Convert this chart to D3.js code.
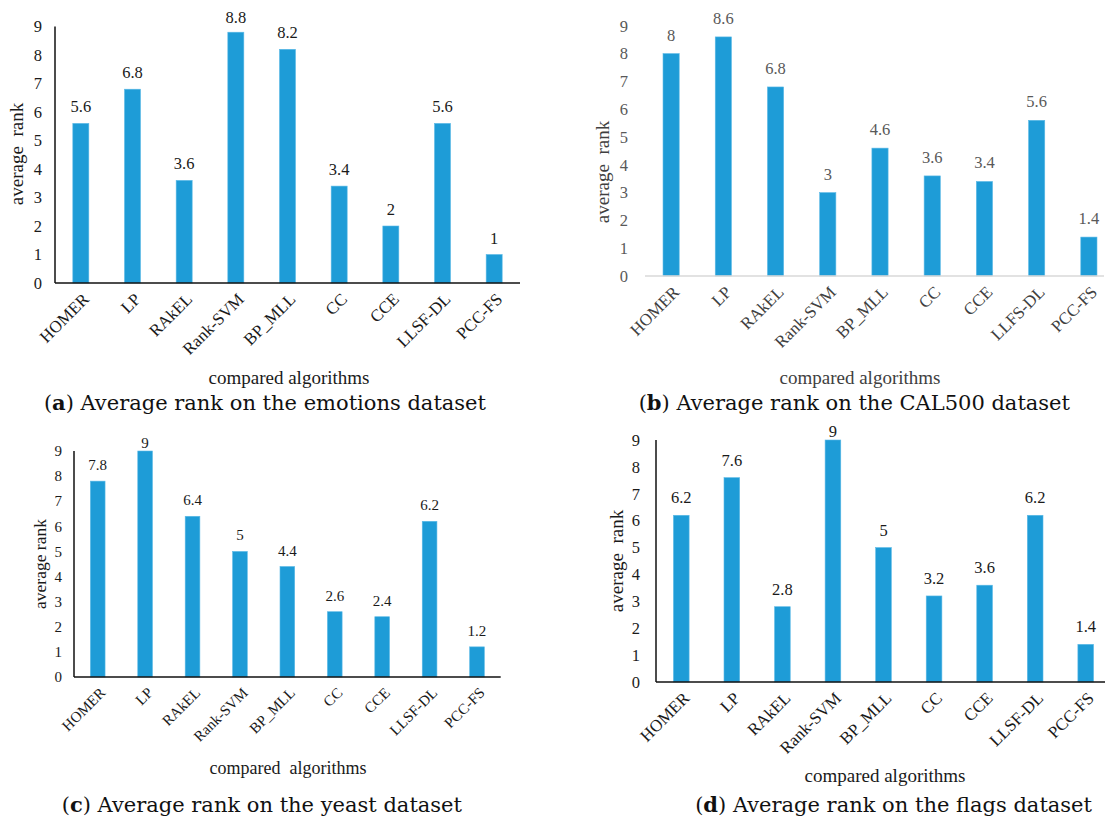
<!DOCTYPE html>
<html>
<head>
<meta charset="utf-8">
<script src="https://cdn.jsdelivr.net/npm/d3@7"></script>
<style>
  body { margin: 0; background: #fff; }
  svg { display: block; font-family: "Liberation Serif", "Times New Roman", serif; }
</style>
</head>
<body>
<svg id="chart" width="1105" height="825"></svg>
<script>
// algorithm names on the x axes
const algosA = ["HOMER", "LP", "RAkEL", "Rank-SVM", "BP_MLL", "CC", "CCE", "LLSF-DL", "PCC-FS"];
const algosB = ["HOMER", "LP", "RAkEL", "Rank-SVM", "BP_MLL", "CC", "CCE", "LLFS-DL", "PCC-FS"];

// average rank per dataset
const rankEmotions = [5.6, 6.8, 3.6, 8.8, 8.2, 3.4, 2, 5.6, 1];
const rankCAL500 = [8, 8.6, 6.8, 3, 4.6, 3.6, 3.4, 5.6, 1.4];
const rankYeast = [7.8, 9, 6.4, 5, 4.4, 2.6, 2.4, 6.2, 1.2];
const rankFlags = [6.2, 7.6, 2.8, 9, 5, 3.2, 3.6, 6.2, 1.4];

const yTicks = [0, 1, 2, 3, 4, 5, 6, 7, 8, 9];

const barColor = "#1e9cd7";
const svg = d3.select("#chart");

function drawPanel(p) {
  const g = svg.append("g");

  const x = d3.scaleBand()
    .domain(p.cats)
    .range([p.x0, p.x1])
    .paddingInner(0.69)
    .paddingOuter(0.345);

  const y = d3.scaleLinear()
    .domain([0, 9])
    .range([p.base, p.top]);

  // bars
  g.append("g")
    .selectAll("rect")
    .data(p.values)
    .join("rect")
    .attr("x", (d, i) => x(p.cats[i]))
    .attr("y", d => y(d))
    .attr("width", x.bandwidth())
    .attr("height", d => y(0) - y(d))
    .attr("fill", barColor)
    .attr("stroke", "#5bb9e6")
    .attr("stroke-width", 0.6);

  // value labels (squeezed at the top of the plot, like the original)
  g.append("g")
    .selectAll("text")
    .data(p.values)
    .join("text")
    .attr("x", (d, i) => x(p.cats[i]) + x.bandwidth() / 2)
    .attr("y", d => Math.max(y(d) - p.valGap, p.labelMin))
    .attr("text-anchor", "middle")
    .attr("fill", p.textColor)
    .style("font-size", p.fs + "px")
    .text(d => d);

  // y axis tick labels
  g.append("g")
    .selectAll("text")
    .data(yTicks)
    .join("text")
    .attr("x", p.x0 - p.tickGap)
    .attr("y", d => y(d))
    .attr("dy", "0.35em")
    .attr("text-anchor", "end")
    .attr("fill", p.textColor)
    .style("font-size", p.fs + "px")
    .text(d => d);

  // axis lines
  g.append("line")
    .attr("x1", p.x0).attr("x2", p.axisEnd)
    .attr("y1", y(0)).attr("y2", y(0))
    .attr("stroke", p.axisColor)
    .attr("stroke-width", p.axisWidth);
  if (p.yAxisLine) {
    g.append("line")
      .attr("x1", p.x0).attr("x2", p.x0)
      .attr("y1", y(9)).attr("y2", y(0))
      .attr("stroke", p.axisColor)
      .attr("stroke-width", p.axisWidth);
  }

  // category labels, rotated
  g.append("g")
    .selectAll("text")
    .data(p.cats)
    .join("text")
    .attr("transform", d => `translate(${x(d) + x.bandwidth() / 2 + 5},${y(0) + 13}) rotate(-45)`)
    .attr("dy", "0.35em")
    .attr("text-anchor", "end")
    .attr("fill", p.catColor)
    .style("font-size", p.catFs + "px")
    .text(d => d);

  // axis titles
  g.append("text")
    .attr("transform", `translate(${p.yTitleX},${p.yTitleY}) rotate(-90)`)
    .attr("text-anchor", "middle")
    .attr("fill", p.titleColor)
    .style("font-size", p.yTitleFs + "px")
    .style("white-space", "pre")
    .text(p.yTitle);

  g.append("text")
    .attr("x", p.xTitleX)
    .attr("y", p.xTitleY)
    .attr("text-anchor", "middle")
    .attr("fill", p.titleColor)
    .style("font-size", p.titleFs + "px")
    .style("white-space", "pre")
    .text(p.xTitle);

  // caption, anchored on its right end
  const cap = g.append("text")
    .attr("x", p.capEnd)
    .attr("y", p.capY)
    .attr("text-anchor", "end")
    .attr("fill", "#111")
    .style("font-family", "'DejaVu Serif', serif")
    .style("font-size", "21px");
  cap.append("tspan").text("(");
  cap.append("tspan").style("font-weight", "bold").text(p.letter);
  cap.append("tspan").text(") " + p.caption);
}

const dark = {
  textColor: "#1a1a1a", catColor: "#1a1a1a", titleColor: "#1a1a1a",
  axisColor: "#111", axisWidth: 1.5, yAxisLine: true
};

drawPanel(Object.assign({}, dark, {
  cats: algosA, values: rankEmotions,
  x0: 55, x1: 520, axisEnd: 520, base: 283, top: 26.5,
  fs: 16.5, catFs: 17, titleFs: 19, yTitleFs: 19, valGap: 11, labelMin: 23, tickGap: 13,
  yTitle: "average  rank", yTitleX: 23, yTitleY: 154,
  xTitle: "compared algorithms", xTitleX: 289, xTitleY: 384,
  letter: "a", caption: "Average rank on the emotions dataset", capEnd: 486, capY: 410
}));

drawPanel({
  cats: algosB, values: rankCAL500,
  x0: 645, x1: 1115, axisEnd: 1104, base: 276, top: 25.8,
  fs: 16.5, catFs: 17, titleFs: 19, yTitleFs: 19, valGap: 13, labelMin: 20, tickGap: 17,
  textColor: "#595959", catColor: "#404040", titleColor: "#404040",
  axisColor: "#d9d9d9", axisWidth: 1.5, yAxisLine: false,
  yTitle: "average  rank", yTitleX: 609, yTitleY: 172,
  xTitle: "compared algorithms", xTitleX: 860, xTitleY: 384,
  letter: "b", caption: "Average rank on the CAL500 dataset", capEnd: 1070, capY: 410
});

drawPanel(Object.assign({}, dark, {
  cats: algosA, values: rankYeast,
  x0: 74, x1: 500.7, axisEnd: 500.7, base: 677, top: 451,
  fs: 15, catFs: 15, titleFs: 18, yTitleFs: 17.5, valGap: 11, labelMin: 448, tickGap: 12,
  yTitle: "average rank", yTitleX: 46, yTitleY: 564,
  xTitle: "compared  algorithms", xTitleX: 288, xTitleY: 774,
  letter: "c", caption: "Average rank on the yeast dataset", capEnd: 462, capY: 812
}));

drawPanel(Object.assign({}, dark, {
  cats: algosA, values: rankFlags,
  x0: 656, x1: 1111, axisEnd: 1105, base: 682, top: 440,
  fs: 16.5, catFs: 17, titleFs: 19, yTitleFs: 19, valGap: 12, labelMin: 437, tickGap: 16,
  yTitle: "average  rank", yTitleX: 623, yTitleY: 561,
  xTitle: "compared algorithms", xTitleX: 885, xTitleY: 782,
  letter: "d", caption: "Average rank on the flags dataset", capEnd: 1092, capY: 812
}));
</script>
</body>
</html>
